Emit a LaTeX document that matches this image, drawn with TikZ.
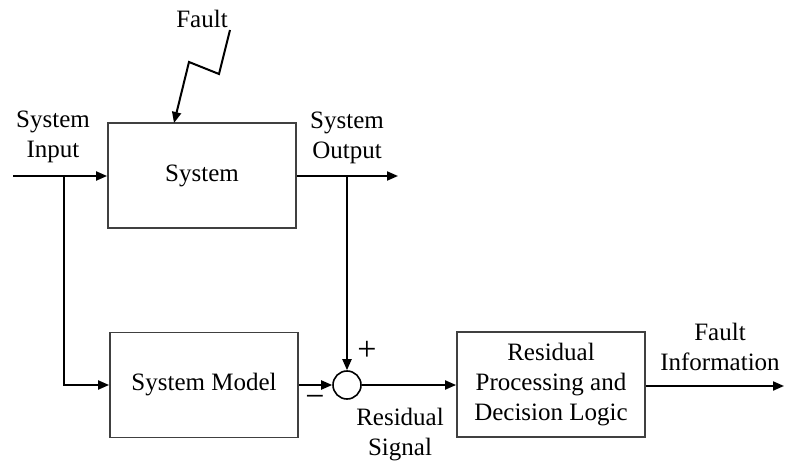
\documentclass[tikz,border=0pt]{standalone}
\usepackage{fontspec}
\setmainfont{Liberation Serif}
\usetikzlibrary{arrows.meta}
\begin{document}
\begin{tikzpicture}[x=1pt,y=-1pt,
  every node/.style={font=\fontsize{25}{30}\selectfont, inner sep=0pt},
  block/.style={draw=black!75, line width=1.8pt, minimum width=188pt, minimum height=105pt, align=center},
  junction/.style={circle, draw=black, line width=1.6pt, minimum size=28pt},
  wire/.style={draw=black, line width=2pt},
  arr/.style={wire, -{Triangle[length=11pt,width=9pt]}},
  lbl/.style={align=center},
  sign/.style={font=\fontsize{34}{34}\selectfont}]
\useasboundingbox (0,0) rectangle (786,465);

% blocks
\node[block] (sys) at (202,175.5) {System};
\node[block] (model) at (204,385) {System Model};
\node[block] (res) at (551,384.5) {Residual\\Processing and\\Decision Logic};
\node[junction] (sum) at (347,385) {};

% helper points
\coordinate (in) at (13,176);
\coordinate (br) at (64,176);
\coordinate (out) at (398,176);
\coordinate (ob) at (347,176);
\coordinate (fin) at (784,386);
\coordinate (f1) at (230,30);
\coordinate (f2) at (219,74);
\coordinate (f3) at (189,62);
\coordinate (ft) at (174,123);

% input and its branch to the model
\draw[arr] (in) -- (sys.west |- in);
\draw[arr] (br) |- (model.west);

% system output and feedback to the junction
\draw[arr] (sys.east |- out) -- (out);
\draw[arr] (ob) -- (sum.north);

% model to junction, junction to residual block
\draw[arr] (model.east) -- (sum.west);
\draw[arr] (sum.east) -- (res.west |- sum.east);
\draw[arr] (res.east |- fin) -- (fin);

% fault injection
\draw[arr, line join=miter] (f1) -- (f2) -- (f3) -- (ft);

% labels
\node[lbl] (lfault) at (202,19) {Fault};
\node[lbl] (lin) at (53,137) {System\\Input};
\node[lbl] (lout) at (347,138) {System\\Output};
\node[lbl] (linfo) at (720,347) {Fault\\Information};
\node[lbl] (lres) at (400,435) {Residual\\Signal};
\node[sign] (plus) at (367,351) {+};
\node[sign] (minus) at (315,401) {−};
\end{tikzpicture}
\end{document}
